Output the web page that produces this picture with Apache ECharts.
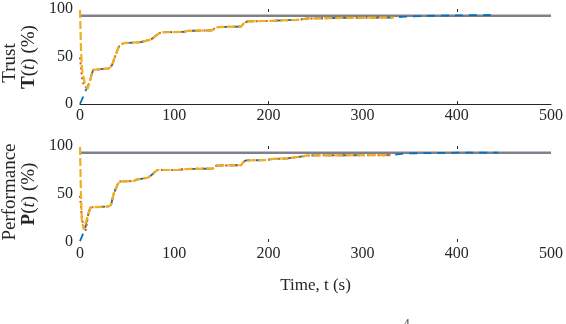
<!DOCTYPE html>
<html>
<head>
<meta charset="utf-8">
<script src="https://cdn.jsdelivr.net/npm/echarts@6/dist/echarts.min.js"></script>
<style>
  html, body { margin: 0; padding: 0; background: #fff; }
  #chart { width: 566px; height: 324px; }
</style>
</head>
<body>
<div id="chart"></div>
<script>
// x ticks / y ticks
const xTicks = [0, 100, 200, 300, 400, 500]
const yTicks = [0, 50, 100]
const refLevel = 93

// Trust T(t): shared tail after the start transient
const trustTailT = [8, 10, 12, 14, 31, 34, 38, 41, 46, 64, 66, 74, 77, 82, 86, 111, 114, 140, 143, 147, 171, 174, 178, 204, 213, 230, 238, 241, 243, 291, 333]
const trustTailV = [16, 22, 30, 36, 37.5, 41, 52, 60, 64, 65, 67, 67.5, 69, 73, 75.5, 76, 77, 77.5, 79.5, 81, 81.5, 85, 87, 87.5, 88, 88.5, 89.5, 90, 90.5, 90.8, 91]
const trustBlueHeadT = [0, 4, 6]
const trustBlueHeadV = [0, 9, 14]
const trustBlueEndT = [345, 380, 436]
const trustBlueEndV = [92, 93, 93.7]
const trustRedHeadT = [0, 1, 2, 4, 7]
const trustRedHeadV = [49, 39, 28, 20, 17]
const trustYellowHeadT = [0, 1, 2, 5]
const trustYellowHeadV = [99, 60, 38, 22]

// Performance P(t)
const perfTailT = [6, 9, 11, 30, 33, 36, 40, 42, 57, 60, 72, 75, 82, 104, 111, 141, 145, 171, 173, 176, 196, 206, 220, 230, 238, 241, 330]
const perfTailV = [12, 30, 36, 37, 39, 51, 60, 63, 63.5, 65, 67, 69, 75, 75, 76, 76.5, 79.6, 80, 83, 85, 85.3, 86.6, 87, 88.4, 89.5, 90.2, 90.5]
const perfBlueHeadT = [0, 3, 5]
const perfBlueHeadV = [1, 8, 12]
const perfBlueEndT = [345, 400, 444]
const perfBlueEndV = [92.3, 93, 93]
const perfRedHeadT = [0, 1, 2, 4]
const perfRedHeadV = [48, 38, 25, 15]
const perfYellowHeadT = [0, 1, 2, 4]
const perfYellowHeadV = [99, 50, 22, 13]

const pairs = (ts, vs) => ts.map((t, i) => [t, vs[i]])
const serif = '"Liberation Serif", "DejaVu Serif", serif'
const ink = '#262626'

function lines(ix, tailT, tailV, bh, bhv, be, bev, rh, rhv, yh, yhv) {
  const tail = pairs(tailT, tailV)
  const base = { type: 'line', xAxisIndex: ix * 2, yAxisIndex: ix, showSymbol: false, animation: false, silent: true }
  return [
    Object.assign({}, base, {
      data: [[0, refLevel], [500, refLevel]],
      lineStyle: { color: '#80808c', width: 2.5 }
    }),
    Object.assign({}, base, {
      data: pairs(bh, bhv).concat(tail, pairs(be, bev)),
      lineStyle: { color: '#0072BD', width: 1.8, type: [8, 6] }
    }),
    Object.assign({}, base, {
      data: pairs(rh, rhv).concat(tail),
      lineStyle: { color: '#D95319', width: 2, type: [2, 3] }
    }),
    Object.assign({}, base, {
      data: pairs(yh, yhv).concat(tail),
      lineStyle: { color: '#EDB120', width: 2.2, type: [8, 3] }
    })
  ]
}

function xAxisPair(grid, showLine, extra) {
  const tick = { show: true, inside: true, length: 3, customValues: [200, 400], lineStyle: { color: ink } }
  return [
    Object.assign({
      type: 'value', gridIndex: grid, position: 'bottom', min: 0, max: 500, interval: 100,
      axisLine: { show: showLine, lineStyle: { color: ink, width: 1 } },
      axisTick: tick,
      axisLabel: { fontFamily: serif, fontSize: 16, color: ink, margin: 4 },
      splitLine: { show: false }
    }, extra || {}),
    {
      type: 'value', gridIndex: grid, position: 'top', min: 0, max: 500, interval: 100,
      axisLine: { show: false }, axisTick: tick, axisLabel: { show: false }, splitLine: { show: false }
    }
  ]
}

const yAxisBase = grid => ({
  type: 'value', gridIndex: grid, min: 0, max: 100, interval: 50,
  axisLine: { show: false }, axisTick: { show: false },
  axisLabel: { fontFamily: serif, fontSize: 16, color: ink, margin: 7 },
  splitLine: { show: false }
})

const rich = {
  b: { fontFamily: serif, fontSize: 19, fontWeight: 'bold', fill: ink },
  i: { fontFamily: serif, fontSize: 19, fontStyle: 'italic', fill: ink },
  n: { fontFamily: serif, fontSize: 19, fill: ink }
}

const yLabel = (x, y, text) => ({
  type: 'text', x: x, y: y, rotation: Math.PI / 2, silent: true,
  style: { text: text, fontFamily: serif, fontSize: 19, fill: ink, align: 'center', verticalAlign: 'middle', rich: rich }
})

const chart = echarts.init(document.getElementById('chart'), null, { renderer: 'canvas' })
chart.setOption({
  backgroundColor: '#fff',
  animation: false,
  grid: [
    { left: 80, right: 13, top: 9, height: 95 },
    { left: 80, right: 13, top: 146, height: 96 }
  ],
  xAxis: xAxisPair(0, true).concat(xAxisPair(1, false, {
    name: 'Time, t (s)', nameLocation: 'middle', nameGap: 35,
    nameTextStyle: { fontFamily: serif, fontSize: 17, color: ink }
  })),
  yAxis: [yAxisBase(0), yAxisBase(1)],
  graphic: [
    yLabel(10, 63, 'Trust'),
    yLabel(29, 57, '{b|T}{n|(}{i|t}{n|) (%)}'),
    yLabel(10, 192, 'Performance'),
    yLabel(29, 194, '{b|P}{n|(}{i|t}{n|) (%)}'),
    { type: 'text', x: 404, y: 318, silent: true, style: { text: '4', fontFamily: serif, fontSize: 11, fill: ink } }
  ],
  series: lines(0, trustTailT, trustTailV, trustBlueHeadT, trustBlueHeadV, trustBlueEndT, trustBlueEndV,
      trustRedHeadT, trustRedHeadV, trustYellowHeadT, trustYellowHeadV)
    .concat(lines(1, perfTailT, perfTailV, perfBlueHeadT, perfBlueHeadV, perfBlueEndT, perfBlueEndV,
      perfRedHeadT, perfRedHeadV, perfYellowHeadT, perfYellowHeadV))
})
</script>
</body>
</html>
